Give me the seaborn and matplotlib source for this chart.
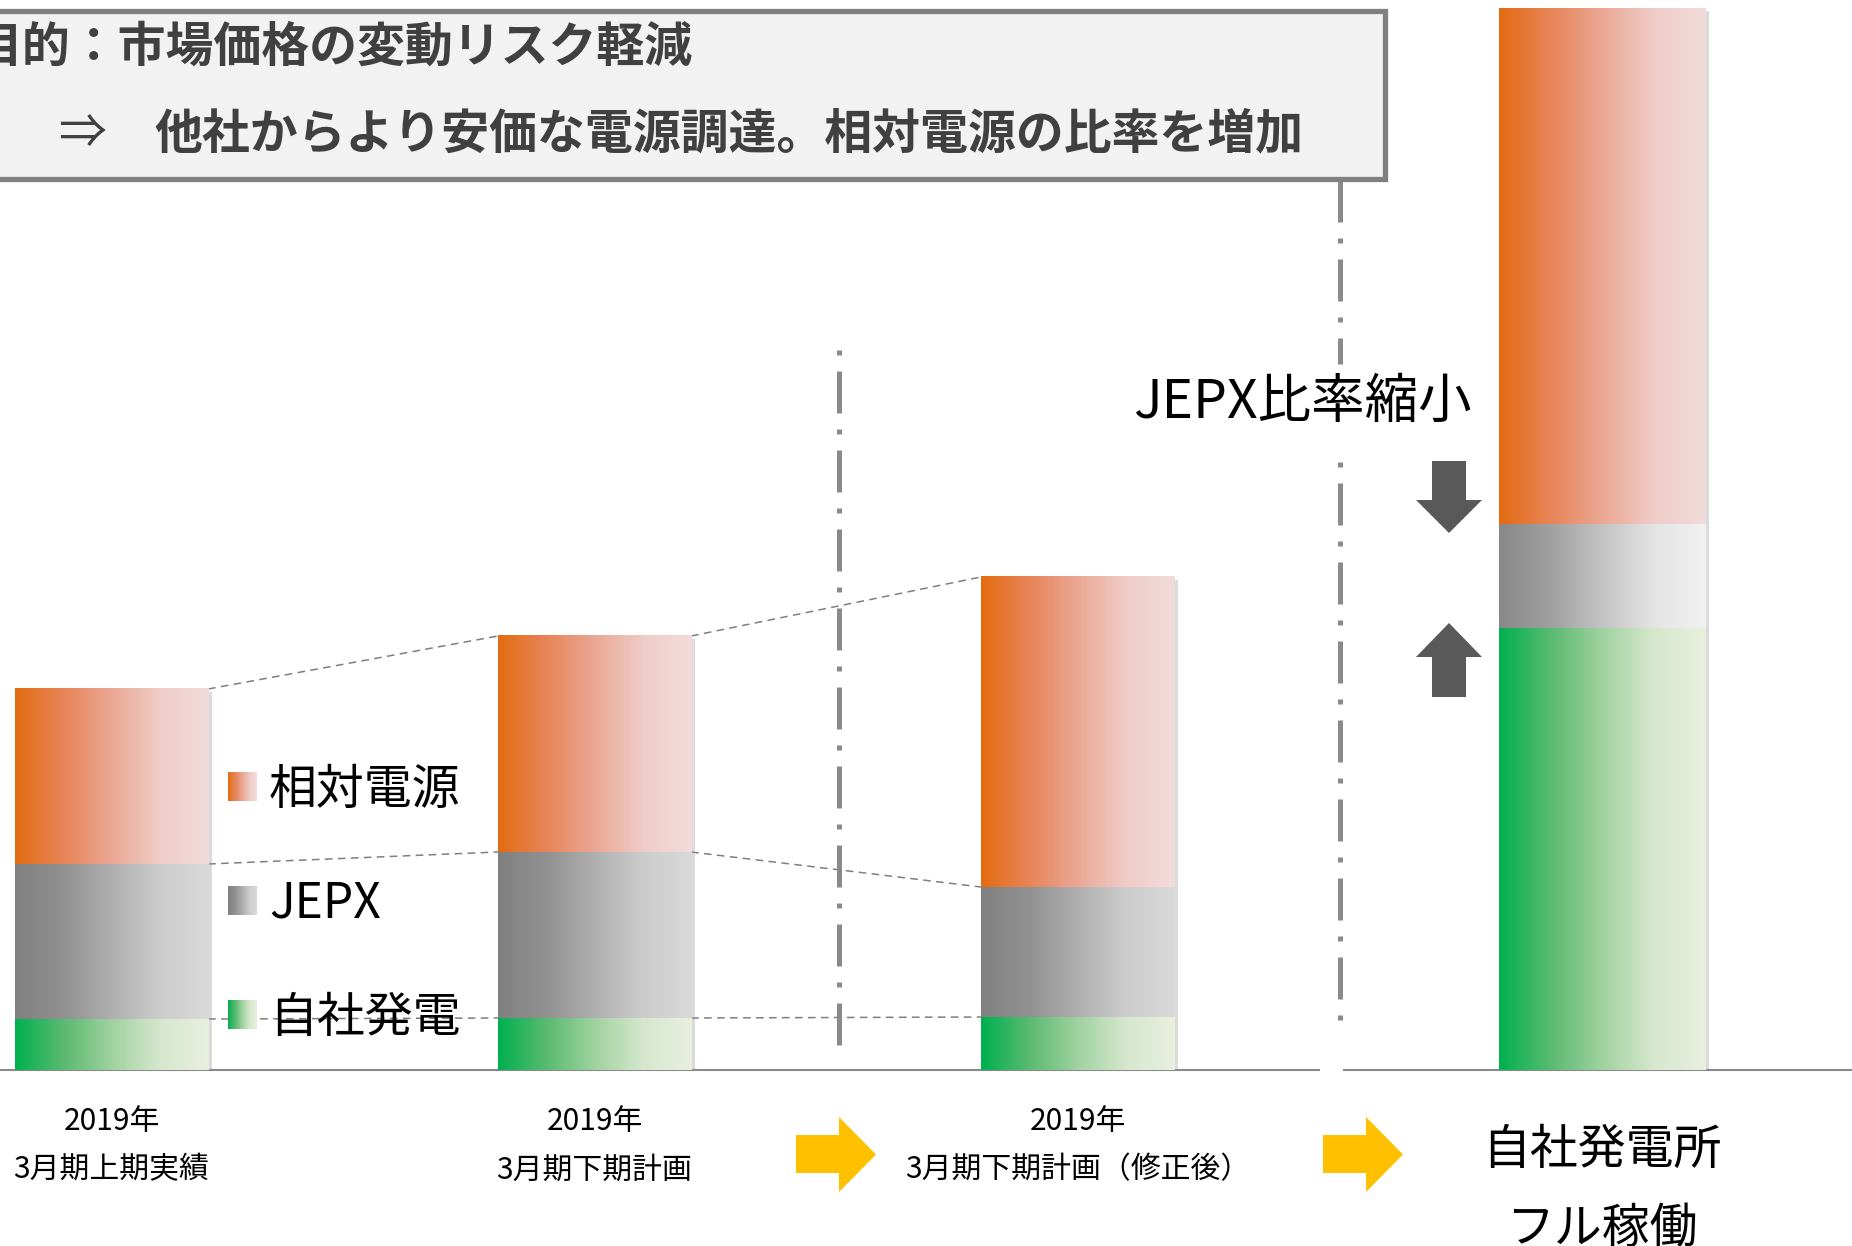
import numpy as np
import pandas as pd
import matplotlib
matplotlib.use("Agg")
import matplotlib.pyplot as plt
import matplotlib.transforms as mtransforms
import matplotlib.patheffects as pe
from matplotlib.colors import LinearSegmentedColormap
from matplotlib.patches import Rectangle, Polygon
import seaborn as sns

# ---------------- data ----------------
categories = ["2019年\n3月期上期実績", "2019年\n3月期下期計画", "2019年\n3月期下期計画（修正後）"]
own_generation = [5.1, 5.2, 5.3]
jepx = [15.5, 16.6, 13.0]
bilateral = [17.5, 21.6, 31.0]

full_category = ["自社発電所\nフル稼働"]
full_own_generation = [44.1]
full_jepx = [10.5]
full_bilateral = [51.6]

legend_labels = ["相対電源", "JEPX", "自社発電"]
title_line1 = "目的：市場価格の変動リスク軽減"
title_arrow = "⇒"
title_line2 = "他社からより安価な電源調達。相対電源の比率を増加"
note_text = "JEPX比率縮小"

# ---------------- style ----------------
sns.set_style("white")
plt.rcParams["font.family"] = ["Noto Sans CJK JP", "DejaVu Sans"]

W, H = 1852, 1246
fig = plt.figure(figsize=(W / 100, H / 100), dpi=100)
fig.patch.set_facecolor("white")


def rect_px(left, top, width, height):
    return [left / W, 1 - (top + height) / H, width / W, height / H]


BASE = 1070
YMAX = 107.0

ax1 = fig.add_axes(rect_px(-130, 0, 1449, BASE))
ax2 = fig.add_axes(rect_px(1344, 0, 516, BASE))
ov = fig.add_axes([0, 0, 1, 1], zorder=5)
ov.set_autoscale_on(False)
ov.set_xlim(0, W)
ov.set_ylim(H, 0)
ov.axis("off")
ov.patch.set_alpha(0)


def make_cmap(name, stops):
    return LinearSegmentedColormap.from_list(name, [(p, np.array(c) / 255.0) for p, c in stops])


cmap_orange = make_cmap("or", [(0, (227, 108, 18)), (0.25, (231, 132, 88)), (0.5, (234, 168, 148)),
                               (0.75, (239, 204, 199)), (1, (242, 220, 219))])
cmap_gray = make_cmap("gr", [(0, (128, 128, 128)), (0.25, (145, 145, 145)), (0.5, (175, 175, 175)),
                             (0.75, (204, 204, 204)), (1, (217, 217, 217))])
cmap_gray_light = make_cmap("grl", [(0, (136, 136, 136)), (0.25, (160, 160, 160)), (0.5, (195, 195, 195)),
                                    (0.75, (228, 228, 228)), (1, (241, 241, 241))])
cmap_green = make_cmap("gn", [(0, (0, 176, 80)), (0.25, (90, 186, 112)), (0.5, (160, 210, 160)),
                              (0.75, (214, 231, 205)), (1, (233, 240, 222))])
grad = np.linspace(0, 1, 256).reshape(1, -1)

LINE_GRAY = "#8A8A8A"


def stacked(ax, cats, own, jx, bl, gray_map, connectors):
    df = pd.DataFrame({"cat": cats, "own": own, "jepx": jx, "bil": bl})
    df["c1"] = df["own"]
    df["c2"] = df["own"] + df["jepx"]
    df["c3"] = df["c2"] + df["bil"]
    layers = [("c3", "c2", cmap_orange), ("c2", "c1", gray_map), ("c1", None, cmap_green)]
    n = len(df)
    for col, _, cmap in layers:
        sns.barplot(data=df, x="cat", y=col, ax=ax, width=0.4, color=cmap(0.0),
                    saturation=1, errorbar=None, zorder=2)
    patches = list(ax.patches)
    for li, (col, lower, cmap) in enumerate(layers):
        for i in range(n):
            p = patches[li * n + i]
            x0, w, top = p.get_x(), p.get_width(), p.get_height()
            bottom = df[lower].iloc[i] if lower else 0.0
            if li == 0:
                p.set_path_effects([pe.SimplePatchShadow(offset=(2.5, -2.5), shadow_rgbFace="#9a9a9a", alpha=0.35),
                                    pe.Normal()])
            p.set_edgecolor("none")
            ax.imshow(grad, cmap=cmap, extent=(x0, x0 + w, bottom, top), aspect="auto",
                      interpolation="bilinear", zorder=3)
    if connectors:
        bars = patches[:n]
        for i in range(n - 1):
            xa = bars[i].get_x() + bars[i].get_width()
            xb = bars[i + 1].get_x()
            for col in ("c3", "c2", "c1"):
                ax.plot([xa, xb], [df[col].iloc[i], df[col].iloc[i + 1]], color="#7f7f7f",
                        lw=1.1, ls=(0, (5, 3.5)), zorder=1, clip_on=False)
    ax.set_xlim(-0.5, n - 0.5)
    ax.set_ylim(0, YMAX)
    return patches[:n]


bars1 = stacked(ax1, categories, own_generation, jepx, bilateral, cmap_gray, True)
bars2 = stacked(ax2, full_category, full_own_generation, full_jepx, full_bilateral, cmap_gray_light, False)

for ax in (ax1, ax2):
    sns.despine(ax=ax, left=True, top=True, right=True)
    ax.spines["bottom"].set_color(LINE_GRAY)
    ax.spines["bottom"].set_linewidth(1.5)
    ax.set_yticks([])
    ax.set_xticks([])
    ax.set_xlabel("")
    ax.set_ylabel("")
    ax.patch.set_alpha(0)

ax1.set_xticks([0.5, 1.5, 2.5], minor=True)
ax1.tick_params(axis="x", which="minor", length=7.5, width=1.5, color=LINE_GRAY, direction="out")
ax2.set_xticks([-0.5], minor=True)
ax2.tick_params(axis="x", which="minor", length=12.5, width=1.5, color=LINE_GRAY, direction="out")

# category labels (x from bar positions, y in pixels)
for ax, cats, bars, fs, ys in ((ax1, categories, bars1, 21.5, (1121, 1170)),
                               (ax2, full_category, bars2, 34.5, (1150, 1229))):
    tr = mtransforms.blended_transform_factory(ax.transData, ov.transData)
    for cat, b in zip(cats, bars):
        xc = b.get_x() + b.get_width() / 2
        for line, y in zip(cat.split("\n"), ys):
            ax.text(xc, y, line, transform=tr, ha="center", va="center", fontsize=fs,
                    color="black", clip_on=False)

# ---------------- annotations (pixel overlay) ----------------
# title box
ov.add_patch(Rectangle((-20, 10.5), 1405, 168.5, facecolor="#F2F2F2", edgecolor="#808080",
                       lw=3.8, zorder=2))
ov.text(-26, 47, title_line1, fontsize=34.5, fontweight="bold", color="#404040", va="center", ha="left", zorder=3)
ov.text(58, 134, title_arrow, fontsize=34.5, color="#404040", va="center", ha="left", zorder=3)
ov.text(154, 134, title_line2, fontsize=34.5, fontweight="bold", color="#404040", va="center", ha="left", zorder=3)

# dash-dot separators
dash_a = (8.4, 3.2, 1.0, 3.2)
dot_a = (1.0, 3.2, 8.4, 3.2)
ov.plot([839, 839], [350, 1053], color=LINE_GRAY, lw=3.6, ls=(0, dot_a), dash_capstyle="butt", zorder=1)
ov.plot([1340, 1340], [180, 364], color=LINE_GRAY, lw=3.6, ls=(0, dash_a), dash_capstyle="butt", zorder=1)
ov.plot([1340, 1340], [462, 1022], color=LINE_GRAY, lw=3.6, ls=(0, dot_a), dash_capstyle="butt", zorder=1)

# note text and arrows
ov.text(1133, 402, note_text, fontsize=38.5, color="black", va="center", ha="left", zorder=3)
ARROW_DARK = "#595959"
ov.add_patch(Polygon([(1432, 461), (1466, 461), (1466, 500), (1482, 500), (1449, 533),
                      (1416, 500), (1432, 500)], closed=True, facecolor=ARROW_DARK, edgecolor="none"))
ov.add_patch(Polygon([(1449, 623), (1482, 657), (1466, 657), (1466, 697), (1432, 697),
                      (1432, 657), (1416, 657)], closed=True, facecolor=ARROW_DARK, edgecolor="none"))

# yellow step arrows
for x0 in (796, 1323):
    ov.add_patch(Polygon([(x0, 1135), (x0 + 43, 1135), (x0 + 43, 1117), (x0 + 80, 1154.5),
                          (x0 + 43, 1192), (x0 + 43, 1173), (x0, 1173)], closed=True,
                         facecolor="#FFC000", edgecolor="none"))

# legend
legend_maps = [cmap_orange, cmap_gray, cmap_green]
legend_y = [787, 901, 1015]
for lab, cm, yc in zip(legend_labels, legend_maps, legend_y):
    ov.imshow(grad, cmap=cm, extent=(228, 257, yc + 14.5, yc - 14.5), aspect="auto",
              interpolation="bilinear", zorder=3)
    ov.text(269, yc + 3, lab, fontsize=34.5, color="black", va="center", ha="left", zorder=3)

ov.set_xlim(0, W)
ov.set_ylim(H, 0)

fig.savefig("out.png", dpi=100)
